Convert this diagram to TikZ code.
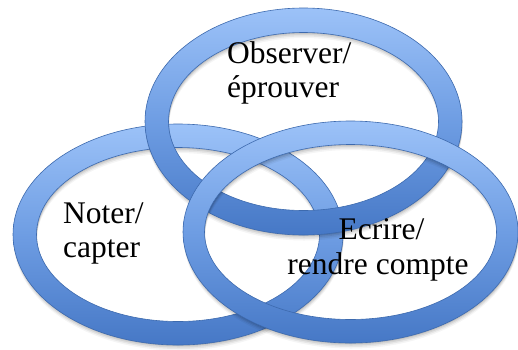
\documentclass[tikz,border=0pt]{standalone}
\usepackage{fontspec}
\setmainfont{Liberation Serif}
\definecolor{ringtop}{HTML}{9CC2F8}
\definecolor{ringmid}{HTML}{6E9DE3}
\definecolor{ringbot}{HTML}{4678C6}
\definecolor{ringedge}{HTML}{3D6AAE}
\tikzset{
  ringshade/.style={top color=ringtop, bottom color=ringbot, middle color=ringmid, even odd rule},
  ringline/.style={draw=ringedge, line width=0.6pt},
  ringshadow/.style={fill=black, even odd rule},
  lbl/.style={inner sep=0pt, font=\fontsize{31.5}{34}\selectfont, text=black}
}
\newcommand\drawring[6]{%
  \foreach \s/\o in {1/0.10,2.5/0.08,4/0.06,5.5/0.04}{%
    \fill[ringshadow, opacity=\o, yshift=-\s pt, xshift=0.5pt]
      (#1,#2) ellipse (#3pt and #4pt) (#1,#2) ellipse (#5pt and #6pt);}
  \shade[ringshade] (#1,#2) ellipse (#3pt and #4pt) (#1,#2) ellipse (#5pt and #6pt);
  \draw[ringline] (#1,#2) ellipse (#3pt and #4pt) (#1,#2) ellipse (#5pt and #6pt);
}
\begin{document}
\begin{tikzpicture}[x=1pt,y=-1pt]
\useasboundingbox (0,0) rectangle (518,349);
\fill[white] (0,0) rectangle (518,349);
% left ring (bottom of stack)
\drawring{178}{234.5}{165}{110.5}{141.5}{87}
% top ring
\drawring{303.5}{121.5}{158.5}{113.5}{135}{89}
% right ring (top of stack)
\drawring{350.5}{232}{167.5}{111}{146}{87.5}
% labels
\node[lbl, anchor=base west] (obs1) at (227,63) {Observer/};
\node[lbl, anchor=base west] (obs2) at (227,97) {éprouver};
\node[lbl, anchor=base west] (not1) at (63,223) {Noter/};
\node[lbl, anchor=base west] (not2) at (63,257) {capter};
\node[lbl, anchor=base] (ecr1) at (381.5,239) {Ecrire/};
\node[lbl, anchor=base] (ecr2) at (378,274) {rendre compte};
\end{tikzpicture}
\end{document}
